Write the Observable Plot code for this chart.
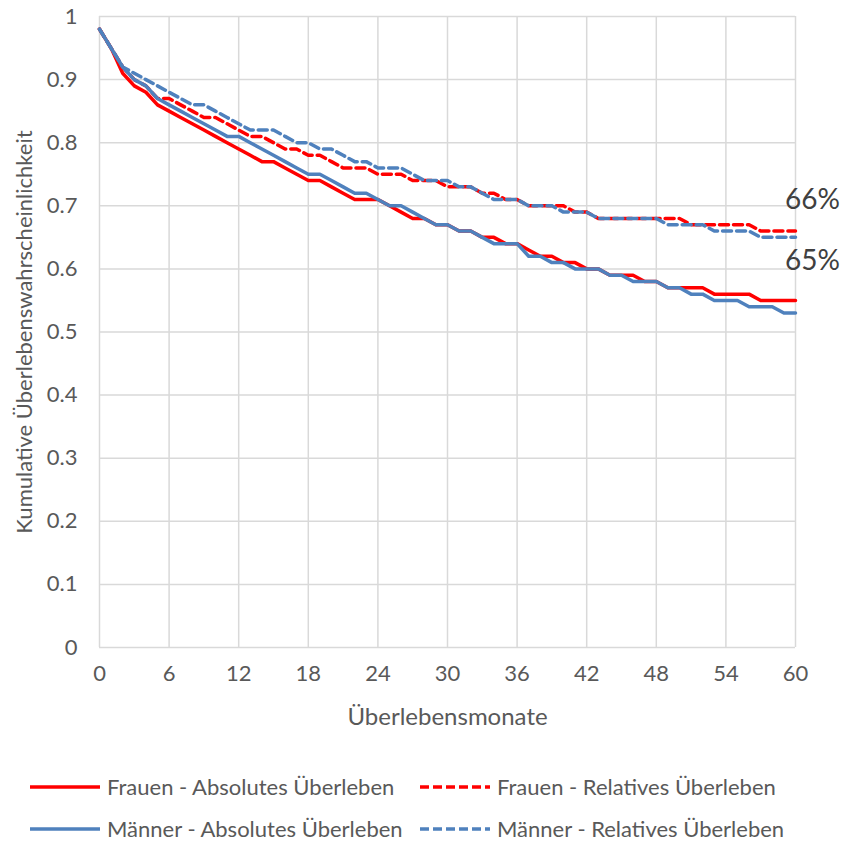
<!DOCTYPE html>
<html>
<head>
<meta charset="utf-8">
<script src="https://cdn.jsdelivr.net/npm/d3@7"></script>
<script src="https://cdn.jsdelivr.net/npm/@observablehq/plot@0.6"></script>
<style>
  html, body { margin: 0; padding: 0; background: #fff; }
  #wrap { position: relative; width: 841px; height: 842px; font-family: Lato, "Open Sans", sans-serif; overflow: hidden; }
  .legend-item { position: absolute; display: flex; align-items: center; font-size: 22px; line-height: 22px; color: #595959; white-space: nowrap; }
  .legend-item svg { margin-right: 7px; }
</style>
</head>
<body>
<div id="wrap"></div>
<script>
const months = d3.range(0, 61);
const xTicks = [0, 6, 12, 18, 24, 30, 36, 42, 48, 54, 60];
const yTicks = [0, 0.1, 0.2, 0.3, 0.4, 0.5, 0.6, 0.7, 0.8, 0.9, 1];

const seriesNames = [
  "Frauen - Absolutes Überleben",
  "Frauen - Relatives Überleben",
  "Männer - Absolutes Überleben",
  "Männer - Relatives Überleben"
];

const frauenAbsolut = [0.98,0.95,0.91,0.89,0.88,0.86,0.85,0.84,0.83,0.82,0.81,0.80,0.79,0.78,0.77,0.77,0.76,0.75,0.74,0.74,0.73,0.72,0.71,0.71,0.71,0.70,0.69,0.68,0.68,0.67,0.67,0.66,0.66,0.65,0.65,0.64,0.64,0.63,0.62,0.62,0.61,0.61,0.60,0.60,0.59,0.59,0.59,0.58,0.58,0.57,0.57,0.57,0.57,0.56,0.56,0.56,0.56,0.55,0.55,0.55,0.55];
const frauenRelativ = [0.98,0.95,0.92,0.90,0.89,0.87,0.87,0.86,0.85,0.84,0.84,0.83,0.82,0.81,0.81,0.80,0.79,0.79,0.78,0.78,0.77,0.76,0.76,0.76,0.75,0.75,0.75,0.74,0.74,0.74,0.73,0.73,0.73,0.72,0.72,0.71,0.71,0.70,0.70,0.70,0.70,0.69,0.69,0.68,0.68,0.68,0.68,0.68,0.68,0.68,0.68,0.67,0.67,0.67,0.67,0.67,0.67,0.66,0.66,0.66,0.66];
const maennerAbsolut = [0.98,0.95,0.92,0.90,0.89,0.87,0.86,0.85,0.84,0.83,0.82,0.81,0.81,0.80,0.79,0.78,0.77,0.76,0.75,0.75,0.74,0.73,0.72,0.72,0.71,0.70,0.70,0.69,0.68,0.67,0.67,0.66,0.66,0.65,0.64,0.64,0.64,0.62,0.62,0.61,0.61,0.60,0.60,0.60,0.59,0.59,0.58,0.58,0.58,0.57,0.57,0.56,0.56,0.55,0.55,0.55,0.54,0.54,0.54,0.53,0.53];
const maennerRelativ = [0.98,0.95,0.92,0.91,0.90,0.89,0.88,0.87,0.86,0.86,0.85,0.84,0.83,0.82,0.82,0.82,0.81,0.80,0.80,0.79,0.79,0.78,0.77,0.77,0.76,0.76,0.76,0.75,0.74,0.74,0.74,0.73,0.73,0.72,0.71,0.71,0.71,0.70,0.70,0.70,0.69,0.69,0.69,0.68,0.68,0.68,0.68,0.68,0.68,0.67,0.67,0.67,0.67,0.66,0.66,0.66,0.66,0.65,0.65,0.65,0.65];

const endLabels = ["66%", "65%"];

const colors = ["#ff0000", "#ff0000", "#4f81bd", "#4f81bd"];
const dashes = [null, "9,5", null, "9,5"];
const allValues = [frauenAbsolut, frauenRelativ, maennerAbsolut, maennerRelativ];

const rows = [];
allValues.forEach((vals, si) => {
  months.forEach((m, i) => rows.push({ series: seriesNames[si], month: m, value: vals[i] }));
});

const lineMarks = seriesNames.map((name, si) =>
  Plot.line(rows.filter(r => r.series === name), {
    x: "month", y: "value",
    stroke: colors[si], strokeWidth: 3.5,
    strokeDasharray: dashes[si] || undefined,
    strokeLinejoin: "round"
  })
);

const last = months.length - 1;
const labelData = [
  { month: months[last], value: frauenRelativ[last], text: endLabels[0] },
  { month: months[last], value: maennerRelativ[last], text: endLabels[1] }
];

const chart = Plot.plot({
  width: 841,
  height: 740,
  marginLeft: 99,
  marginRight: 46,
  marginTop: 16,
  marginBottom: 93,
  style: { fontFamily: "Lato, 'Open Sans', sans-serif", fontSize: "22px", color: "#595959", background: "#fff", overflow: "visible" },
  x: { domain: [0, 60], ticks: xTicks, label: null },
  y: { domain: [0, 1], ticks: yTicks, label: null },
  marks: [
    Plot.gridX(xTicks, { stroke: "#d9d9d9", strokeOpacity: 1, strokeWidth: 1.5 }),
    Plot.gridY(yTicks, { stroke: "#d9d9d9", strokeOpacity: 1, strokeWidth: 1.5 }),
    Plot.axisX(xTicks, { tickSize: 0, tickPadding: 18, fontSize: 22, fill: "#595959", label: null }),
    Plot.axisY(yTicks, { tickSize: 0, tickPadding: 22, fontSize: 22, fill: "#595959", label: null, tickFormat: d => String(d) }),
    Plot.text(["Überlebensmonate"], { frameAnchor: "bottom", dy: 70, fontSize: 24, fill: "#595959", lineAnchor: "middle" }),
    Plot.text(["Kumulative Überlebenswahrscheinlichkeit"], { frameAnchor: "left", dx: -75, rotate: -90, fontSize: 22, fill: "#595959", textAnchor: "middle" }),
    ...lineMarks,
    Plot.text(labelData.slice(0, 1), { x: "month", y: "value", text: "text", dx: 17, dy: -31, fontSize: 28, fill: "#404040" }),
    Plot.text(labelData.slice(1, 2), { x: "month", y: "value", text: "text", dx: 17, dy: 24, fontSize: 28, fill: "#404040" })
  ]
});

const wrap = document.getElementById("wrap");
chart.style.position = "absolute";
chart.style.left = "0px";
chart.style.top = "0px";
wrap.appendChild(chart);

const legendPos = [
  { left: 30, top: 787 },
  { left: 420, top: 787 },
  { left: 30, top: 829 },
  { left: 420, top: 829 }
];
seriesNames.forEach((name, si) => {
  const item = document.createElement("div");
  item.className = "legend-item";
  item.style.left = legendPos[si].left + "px";
  item.style.top = (legendPos[si].top - 11) + "px";
  item.style.height = "22px";
  const dash = dashes[si] ? `stroke-dasharray="9,4"` : "";
  item.innerHTML = `<svg width="70" height="10"><line x1="0" x2="70" y1="5" y2="5" stroke="${colors[si]}" stroke-width="3.5" ${dash}></line></svg><span>${name}</span>`;
  wrap.appendChild(item);
});
</script>
</body>
</html>
